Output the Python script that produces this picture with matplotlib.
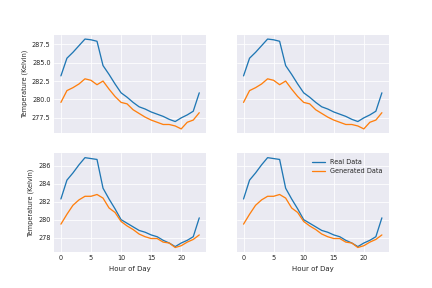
import matplotlib; matplotlib.use("Agg")
import matplotlib.pyplot as plt
from matplotlib.ticker import MultipleLocator

hours = list(range(24))

# top row (same data in both panels)
real_top = [283.2, 285.6, 286.4, 287.3, 288.2, 288.1, 287.9, 284.6, 283.4, 282.1, 280.9, 280.3,
            279.6, 279.0, 278.7, 278.3, 278.0, 277.7, 277.3, 277.0, 277.5, 277.9, 278.4, 280.9]
gen_top = [279.6, 281.2, 281.6, 282.1, 282.8, 282.6, 282.0, 282.5, 281.4, 280.4, 279.6, 279.4,
           278.6, 278.1, 277.6, 277.2, 276.9, 276.6, 276.6, 276.4, 276.0, 276.9, 277.2, 278.2]

# bottom row
real_bot = [282.3, 284.4, 285.2, 286.1, 286.9, 286.8, 286.7, 283.5, 282.3, 281.2, 280.0, 279.6,
            279.2, 278.8, 278.6, 278.3, 278.1, 277.7, 277.4, 277.0, 277.4, 277.7, 278.1, 280.2]
gen_bot = [279.5, 280.6, 281.6, 282.2, 282.6, 282.6, 282.8, 282.4, 281.3, 280.8, 279.8, 279.3,
           278.9, 278.4, 278.1, 277.9, 277.9, 277.5, 277.4, 276.9, 277.1, 277.5, 277.8, 278.3]

plt.style.use("seaborn-v0_8-darkgrid")
plt.rcParams.update({"font.family": "DejaVu Sans", "font.size": 7})

fig, axes = plt.subplots(2, 2, figsize=(6, 4), dpi=72, sharex=True, sharey="row")
fig.subplots_adjust(bottom=0.125)
rows = [(real_top, gen_top), (real_bot, gen_bot)]
for r, (real, gen) in enumerate(rows):
    for c in range(2):
        ax = axes[r, c]
        ax.plot(hours, real, color="#1f77b4", lw=1.3, label="Real Data")
        ax.plot(hours, gen, color="#ff7f0e", lw=1.3, label="Generated Data")
        ax.tick_params(labelsize=6.5)
    axes[r, 0].set_ylabel("Temperature (Kelvin)", fontsize=6.5)
axes[0, 0].yaxis.set_major_locator(MultipleLocator(2.5))
axes[0, 0].yaxis.set_major_formatter("{x:.1f}")
for c in range(2):
    axes[1, c].set_xlabel("Hour of Day", fontsize=7)
axes[1, 1].legend(loc="upper right", fontsize=6.5)

fig.savefig("out.png")
